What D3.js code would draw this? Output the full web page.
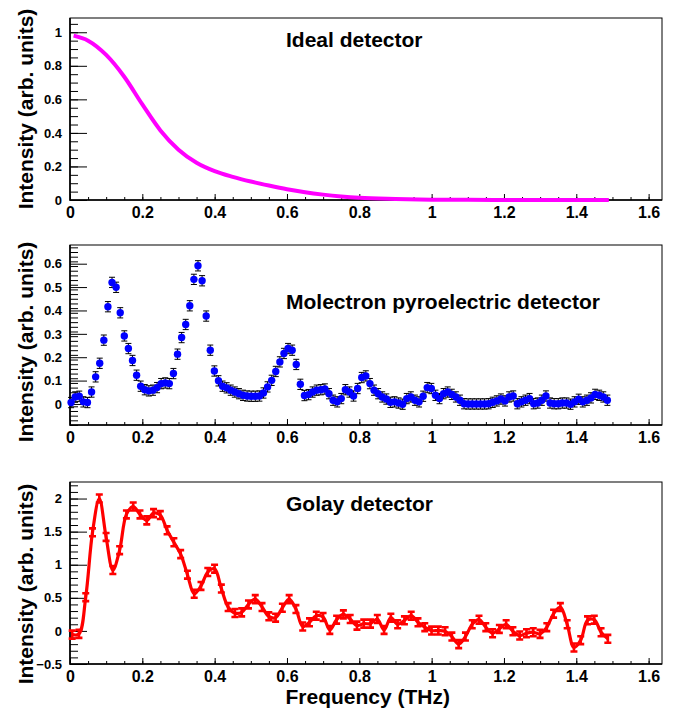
<!DOCTYPE html>
<html>
<head>
<meta charset="utf-8">
<script src="https://cdn.jsdelivr.net/npm/d3@7"></script>
<style>
  body { margin: 0; background: #fff; }
  svg text { font-family: "Liberation Sans", Arial, Helvetica, sans-serif; font-weight: bold; }
</style>
</head>
<body>
<script>
// ---- data ----
const freqTicks = [0, 0.2, 0.4, 0.6, 0.8, 1, 1.2, 1.4, 1.6];

// ideal detector response
const idealFreq = [0.01, 0.05, 0.1, 0.15, 0.2, 0.25, 0.3, 0.35, 0.4, 0.45, 0.5, 0.55, 0.6, 0.65, 0.7, 0.75, 0.8, 0.9, 1.0, 1.1, 1.2, 1.3, 1.4, 1.49];
const idealInt = [0.98, 0.95, 0.865, 0.735, 0.57, 0.415, 0.3, 0.222, 0.172, 0.138, 0.11, 0.086, 0.064, 0.046, 0.032, 0.021, 0.013, 0.006, 0.002, 0.001, 0, 0, 0, 0];
const idealTicks = [0, 0.2, 0.4, 0.6, 0.8, 1];

// molectron pyroelectric detector: regular frequency bins
const molStart = 0.003;
const molStep = 0.01132;
const molInt = [
  0.006, 0.03, 0.033, 0.009, 0.006, 0.051, 0.116, 0.174, 0.273, 0.416,
  0.52, 0.499, 0.39, 0.291, 0.237, 0.186, 0.123, 0.076, 0.061, 0.056,
  0.059, 0.07, 0.087, 0.09, 0.087, 0.13, 0.213, 0.284, 0.34, 0.42,
  0.533, 0.591, 0.527, 0.376, 0.23, 0.141, 0.099, 0.076, 0.069, 0.059,
  0.051, 0.044, 0.037, 0.034, 0.033, 0.033, 0.034, 0.047, 0.073, 0.101,
  0.139, 0.18, 0.216, 0.237, 0.23, 0.169, 0.084, 0.036, 0.04, 0.051,
  0.059, 0.061, 0.064, 0.044, 0.016, 0.009, 0.023,
  0.061, 0.051, 0.034, 0.066, 0.113, 0.12, 0.087, 0.059, 0.044, 0.03,
  0.021, 0.007, 0.009, 0.004, -0.001, 0.023, 0.03, 0.016, 0.009, 0.033,
  0.07, 0.066, 0.037, 0.023, 0.044, 0.051, 0.041, 0.03, 0.016, 0.001,
  0, 0, 0, 0, 0, 0.001, 0.007, 0.013, 0.021, 0.013,
  0.03, 0.034, 0.001, 0.009, 0.016, 0.023, 0.001, 0.004, 0.016, 0.034,
  0.004, 0.001, 0.001, 0.004, 0.004, -0.001, 0.009, 0.02, 0.009, 0.016,
  0.026, 0.041, 0.037, 0.03, 0.016
];
const molErr = 0.022;
const molTicks = [0, 0.1, 0.2, 0.3, 0.4, 0.5, 0.6];

// golay detector
const golStart = 0.006;
const golStep = 0.01875;
const golInt = [
  -0.056, -0.045, 0.51, 1.49, 2.0, 1.42, 0.92, 1.22, 1.76, 1.88,
  1.76, 1.67, 1.78, 1.75, 1.52, 1.34, 1.16, 0.85, 0.56, 0.68,
  0.89, 0.94, 0.64, 0.36, 0.27, 0.28, 0.4, 0.48, 0.36, 0.22,
  0.2, 0.35, 0.48, 0.33, 0.066, 0.13, 0.23, 0.21, 0.015, 0.17,
  0.25, 0.18, 0.08, 0.11, 0.11, 0.18, 0.015, 0.2, 0.1, 0.16,
  0.23, 0.13, 0.056, 0.005, 0.005, -0.005, -0.086, -0.2, -0.086, 0.1,
  0.17, 0.056, -0.035, 0.03, 0.1, -0.005, -0.07, -0.035, -0.02, -0.045,
  0.056, 0.26, 0.36, 0.1, -0.25, -0.14, 0.16, 0.17, -0.02, -0.12
];
const golErr = 0.06;
const golTicks = [-0.5, 0, 0.5, 1, 1.5, 2];

// ---- layout ----
const width = 675, height = 709;
const left = 70, right = 662;

const svg = d3.select('body').append('svg')
  .attr('width', width).attr('height', height);

const x = d3.scaleLinear().domain([0, 1.637]).range([left, right]);

function panel(opts) {
  const y = d3.scaleLinear().domain(opts.yDomain).range([opts.bottom, opts.top]);
  const g = svg.append('g');

  // minor / major y ticks pointing into the frame
  const minor = d3.range(opts.yDomain[0], opts.yDomain[1] + 1e-9, opts.minorStep)
    .map(v => Math.round(v * 1000) / 1000)
    .filter(v => v >= opts.yDomain[0] && v <= opts.yDomain[1]);
  g.append('g').attr('transform', `translate(${left},0)`)
    .call(d3.axisLeft(y).tickValues(minor).tickSize(-8).tickFormat(''))
    .call(a => a.select('.domain').remove());
  g.append('g').attr('transform', `translate(${left},0)`)
    .call(d3.axisLeft(y).tickValues(opts.ticks).tickSize(-17).tickPadding(8).tickFormat(d3.format('')))
    .call(a => a.select('.domain').remove())
    .call(a => a.selectAll('text').attr('font-size', 13).attr('fill', '#000'));

  // x ticks
  const xMinor = d3.range(0, 1.637, 0.05);
  g.append('g').attr('transform', `translate(0,${opts.bottom})`)
    .call(d3.axisBottom(x).tickValues(xMinor).tickSize(-3).tickFormat(''))
    .call(a => a.select('.domain').remove());
  g.append('g').attr('transform', `translate(0,${opts.bottom})`)
    .call(d3.axisBottom(x).tickValues(freqTicks).tickSize(-6).tickPadding(7).tickFormat(d3.format('')))
    .call(a => a.select('.domain').remove())
    .call(a => a.selectAll('text').attr('font-size', 16).attr('fill', '#000'));

  // frame
  g.append('rect')
    .attr('x', left).attr('y', opts.top)
    .attr('width', right - left).attr('height', opts.bottom - opts.top)
    .attr('fill', 'none').attr('stroke', '#000').attr('stroke-width', 1);
  g.append('path')
    .attr('d', `M${left},${opts.top}V${opts.bottom}H${right}`)
    .attr('fill', 'none').attr('stroke', '#000').attr('stroke-width', 1.6);

  // panel title
  g.append('text')
    .attr('x', 286).attr('y', opts.titleY)
    .attr('font-size', 21)
    .text(opts.title);

  // y axis title
  g.append('text')
    .attr('transform', `translate(33,${opts.ytitleY}) rotate(-90)`)
    .attr('text-anchor', 'middle')
    .attr('font-size', 21)
    .text('Intensity (arb. units)');

  return { g, y };
}

// --- Ideal detector ---
const p1 = panel({ top: 18, bottom: 200, yDomain: [0, 1.085], ticks: idealTicks, minorStep: 0.05,
  title: 'Ideal detector', titleY: 47, ytitleY: 109 });
const idealData = idealFreq.map((f, i) => [f, idealInt[i]]);
p1.g.append('path')
  .datum(idealData)
  .attr('fill', 'none')
  .attr('stroke', '#ff00ff')
  .attr('stroke-width', 4)
  .attr('d', d3.line().x(d => x(d[0])).y(d => p1.y(d[1])).curve(d3.curveMonotoneX));

// --- Molectron ---
const p2 = panel({ top: 245, bottom: 425, yDomain: [-0.09, 0.68], ticks: molTicks, minorStep: 0.02,
  title: 'Molectron pyroelectric detector', titleY: 309, ytitleY: 342 });
const molData = molInt.map((v, i) => [molStart + i * molStep, v]);
const eb2 = p2.g.append('g').attr('stroke', '#000').attr('stroke-width', 1);
molData.forEach(d => {
  const cx = x(d[0]), y0 = p2.y(d[1] - molErr), y1 = p2.y(d[1] + molErr);
  eb2.append('path').attr('d', `M${cx},${y0}V${y1}M${cx - 3},${y0}H${cx + 3}M${cx - 3},${y1}H${cx + 3}`);
});
p2.g.append('g').selectAll('circle')
  .data(molData)
  .enter().append('circle')
  .attr('cx', d => x(d[0]))
  .attr('cy', d => p2.y(d[1]))
  .attr('r', 3.7)
  .attr('fill', '#0000ff');

// --- Golay ---
const p3 = panel({ top: 482, bottom: 664, yDomain: [-0.5, 2.25], ticks: golTicks, minorStep: 0.1,
  title: 'Golay detector', titleY: 511, ytitleY: 584 });
const golData = golInt.map((v, i) => [golStart + i * golStep, v]);
p3.g.append('path')
  .datum(golData)
  .attr('fill', 'none')
  .attr('stroke', '#ff0000')
  .attr('stroke-width', 3.2)
  .attr('d', d3.line().x(d => x(d[0])).y(d => p3.y(d[1])).curve(d3.curveCatmullRom.alpha(0.5)));
const eb3 = p3.g.append('g').attr('stroke', '#ff0000').attr('stroke-width', 2.6);
golData.forEach(d => {
  const cx = x(d[0]), y0 = p3.y(d[1] - golErr), y1 = p3.y(d[1] + golErr);
  eb3.append('path').attr('d', `M${cx},${y0}V${y1}M${cx - 3.5},${y0}H${cx + 3.5}M${cx - 3.5},${y1}H${cx + 3.5}`);
});

// x axis title
svg.append('text')
  .attr('x', 450).attr('y', 704)
  .attr('text-anchor', 'end')
  .attr('font-size', 21)
  .text('Frequency (THz)');
</script>
</body>
</html>
